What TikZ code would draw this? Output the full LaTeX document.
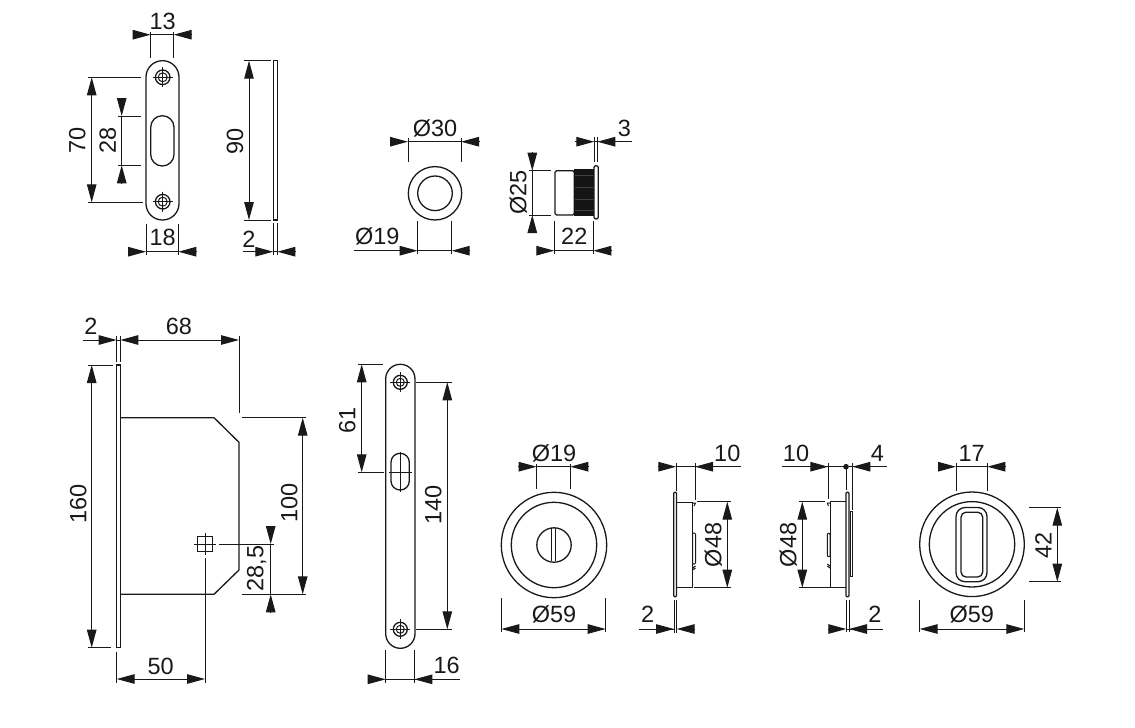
\documentclass[tikz,border=0pt]{standalone}
\usepackage{fontspec}
\setmainfont{Liberation Sans}
\usetikzlibrary{arrows.meta}
\tikzset{
  dimtip/.tip={Triangle[length=18pt,width=9.5pt]},
  dim/.style={draw=black!90, line width=1pt},
  dimarrow/.style={dim, -dimtip},
  dimboth/.style={dim, dimtip-dimtip},
  part/.style={draw=black!90, line width=1.3pt},
  thinpart/.style={draw=black!90, line width=1pt},
  dimtext/.style={font=\fontsize{23.5}{24}\selectfont, inner sep=0pt, text=black!90},
  dimtextv/.style={dimtext, rotate=90}
}
\begin{document}
\begin{tikzpicture}[x=1pt, y=-1pt]
  \useasboundingbox (0,0) rectangle (1135,728);

  % Small plate, front
  \draw[part, rounded corners=16.4pt] (146,60.7) rectangle (179,220);
  \draw[part, rounded corners=11.6pt] (150.7,115.7) rectangle (174,166);
  \foreach \sx/\sy in {162.7/77.3,162.7/201.7} {
    \draw[part] (\sx,\sy) circle (7.3);
    \draw[thinpart] (\sx,\sy) circle (4.5);
    \draw[thinpart] (\sx-10,\sy) -- (\sx+10,\sy) (\sx,\sy-10) -- (\sx,\sy+10);
  }
  % Small plate, side
  \draw[part] (273.3,60.7) rectangle (277.3,220);

  % Dimensions of the small plate
  \draw[dim] (150.7,32) -- (150.7,58) (173.7,32) -- (173.7,58) (150.7,34.7) -- (173.7,34.7);
  \draw[dimarrow] (132.7,34.7) -- (150.7,34.7);
  \draw[dimarrow] (192.3,34.7) -- (173.7,34.7);
  \node[dimtext] (lblThirteen) at (162.7,21) {13};

  \draw[dim] (88,77.3) -- (141,77.3) (88,202.3) -- (142.7,202.3);
  \draw[dimboth] (91.7,77.3) -- (91.7,202.3);
  \node[dimtextv] (lblSeventy) at (77.3,140) {70};

  \draw[dim] (118,116) -- (141,116) (118,165.3) -- (141,165.3) (121.7,116) -- (121.7,165.3);
  \draw[dimarrow] (121.7,97.7) -- (121.7,116);
  \draw[dimarrow] (121.7,184) -- (121.7,165.3);
  \node[dimtextv] (lblTwentyEight) at (107.7,140) {28};

  \draw[dim] (146,224) -- (146,255) (178.3,224) -- (178.3,255) (146,251.7) -- (178.3,251.7);
  \draw[dimarrow] (128.3,251.7) -- (146,251.7);
  \draw[dimarrow] (196.7,251.7) -- (178.3,251.7);
  \node[dimtext] (lblEighteen) at (162.7,237.3) {18};

  \draw[dim] (244.3,60.7) -- (270.7,60.7) (244.3,220) -- (270.7,220);
  \draw[dimboth] (249,60.7) -- (249,220);
  \node[dimtextv] (lblNinety) at (235,141) {90};

  \draw[dim] (273.3,223.3) -- (273.3,255) (277.3,223.3) -- (277.3,255) (273.3,251.7) -- (277.3,251.7);
  \draw[dimarrow] (242.7,251.7) -- (273.3,251.7);
  \draw[dimarrow] (296,251.7) -- (277.3,251.7);
  \node[dimtext] (lblTwoA) at (249,239) {2};

  % Small knob, front
  \draw[part] (435,193.3) circle (26.7);
  \draw[part] (435,193.3) circle (17.3);

  \draw[dim] (408,138) -- (408,161.7) (461,138) -- (461,161.7) (408,141.7) -- (461,141.7);
  \draw[dimarrow] (390,141.7) -- (408,141.7);
  \draw[dimarrow] (479.3,141.7) -- (461,141.7);
  \node[dimtext] (lblDiaThirty) at (435,128.3) {Ø30};

  \draw[dim] (417.7,220.7) -- (417.7,254) (451.7,220.7) -- (451.7,254) (417.7,250.7) -- (451.7,250.7);
  \draw[dimarrow] (354,250.7) -- (417.7,250.7);
  \draw[dimarrow] (470,250.7) -- (451.7,250.7);
  \node[dimtext] (lblDiaNineteenA) at (377.3,236.7) {Ø19};

  % Small knob, side
  \draw[part, rounded corners=1.5pt] (555,170.7) rectangle (574.3,215);
  \fill[black!92] (574.3,169) rectangle (594,215.7);
  \foreach \yy in {175,187,199,210} {
    \draw[black!75, line width=0.3pt] (575,\yy) -- (593.5,\yy);
  }
  \draw[part, rounded corners=2pt] (594,165.7) rectangle (598.3,219);

  \draw[dim] (529,170.7) -- (551,170.7) (529,215) -- (551,215) (532.3,170.7) -- (532.3,215);
  \draw[dimarrow] (532.3,152.3) -- (532.3,170.7);
  \draw[dimarrow] (532.3,232.3) -- (532.3,215);
  \node[dimtextv] (lblDiaTwentyFive) at (518.3,192.7) {Ø25};

  \draw[dim] (554.3,220.7) -- (554.3,254) (593.3,220.7) -- (593.3,254) (554.3,250.7) -- (593.3,250.7);
  \draw[dimarrow] (536.7,250.7) -- (554.3,250.7);
  \draw[dimarrow] (611.7,250.7) -- (593.3,250.7);
  \node[dimtext] (lblTwentyTwo) at (574.3,236.7) {22};

  \draw[dim] (594.3,137) -- (594.3,162.3) (597.3,137) -- (597.3,162.3) (594.3,141.7) -- (632.3,141.7);
  \draw[dimarrow] (575,141.7) -- (594.3,141.7);
  \draw[dimarrow] (616.7,141.7) -- (597.3,141.7);
  \node[dimtext] (lblThree) at (624.3,128.3) {3};

  % Lock case
  \draw[part] (116.7,365) rectangle (120.3,647.7);
  \draw[part] (120.3,417.7) -- (214,417.7) -- (239,442.3) -- (239,570) -- (214,594.3) -- (120.3,594.3);
  \draw[thinpart] (197.5,536.5) rectangle (212.5,551.5);
  \draw[thinpart] (194.3,544) -- (215.7,544) (205,533.3) -- (205,555);

  % Dimensions of the lock case
  \draw[dim] (116.7,335.7) -- (116.7,361.7) (120.3,335.7) -- (120.3,361.7) (116.7,340) -- (120.3,340);
  \draw[dimarrow] (82.7,340) -- (116.7,340);
  \node[dimtext] (lblTwoB) at (91,326) {2};

  \draw[dim] (239,336) -- (239,412.7);
  \draw[dimboth] (120.3,340) -- (239,340);
  \node[dimtext] (lblSixtyEight) at (179,326) {68};

  \draw[dim] (88.3,365) -- (113.3,365) (88.3,647.7) -- (110.7,647.7);
  \draw[dimboth] (91.7,365) -- (91.7,647.7);
  \node[dimtextv] (lblHundredSixty) at (78.3,504.3) {160};

  \draw[dim] (242.3,417.7) -- (306,417.7) (242.3,594.3) -- (306,594.3);
  \draw[dimboth] (302.7,417.7) -- (302.7,594.3);
  \node[dimtextv] (lblHundred) at (289.3,503.3) {100};

  \draw[dim] (219,544) -- (274.3,544) (270.7,544) -- (270.7,594.3);
  \draw[dimarrow] (270.7,526) -- (270.7,544);
  \draw[dimarrow] (270.7,612.7) -- (270.7,594.3);
  \node[dimtextv] (lblTwentyEightFive) at (256.7,568.3) {28,5};

  \draw[dim] (205,558.3) -- (205,683.3) (116.7,651.7) -- (116.7,683);
  \draw[dimboth] (116.7,679) -- (205,679);
  \node[dimtext] (lblFifty) at (160.7,666) {50};

  % Long plate
  \draw[part, rounded corners=14.6pt] (385.7,364.3) rectangle (415,648.3);
  \draw[part, rounded corners=9pt] (391,453.3) rectangle (409.3,490);
  \draw[thinpart] (400.3,451.7) -- (400.3,491.7) (388.5,472.3) -- (411.7,472.3);
  \foreach \sx/\sy in {400.3/382.3,400.3/629.3} {
    \draw[part] (\sx,\sy) circle (7);
    \draw[thinpart] (\sx,\sy) circle (4);
    \draw[thinpart] (\sx-10,\sy) -- (\sx+10,\sy) (\sx,\sy-10) -- (\sx,\sy+10);
  }

  \draw[dim] (358.3,364.3) -- (382.7,364.3) (358.3,472.3) -- (384,472.3);
  \draw[dimboth] (361.7,364.3) -- (361.7,472.3);
  \node[dimtextv] (lblSixtyOne) at (347.3,420) {61};

  \draw[dim] (416,382.3) -- (451.7,382.3) (416,629.3) -- (451.7,629.3);
  \draw[dimboth] (447.3,382.3) -- (447.3,629.3);
  \node[dimtextv] (lblHundredForty) at (433.3,505) {140};

  \draw[dim] (385.7,650) -- (385.7,683) (414.3,650) -- (414.3,683) (385.7,679.3) -- (460,679.3);
  \draw[dimarrow] (367.7,679.3) -- (385.7,679.3);
  \draw[dimarrow] (432.7,679.3) -- (414.3,679.3);
  \node[dimtext] (lblSixteen) at (446.7,665) {16};

  % Round cover with turn slot, front
  \draw[part] (554,545) circle (52.7);
  \draw[part] (554,545) circle (42.7);
  \draw[part] (554,545) circle (17.2);
  \draw[thinpart] (551,528.3) -- (551,560.7) (555,528.3) -- (555,560.7);

  \draw[dim] (536.7,464) -- (536.7,489.3) (570.3,464) -- (570.3,489.3) (536.7,466.7) -- (570.3,466.7);
  \draw[dimarrow] (518.3,466.7) -- (536.7,466.7);
  \draw[dimarrow] (589,466.7) -- (570.3,466.7);
  \node[dimtext] (lblDiaNineteenB) at (554,453.3) {Ø19};

  \draw[dim] (501.3,598.3) -- (501.3,632.3) (605.7,598.3) -- (605.7,632.3);
  \draw[dimboth] (501.3,629) -- (605.7,629);
  \node[dimtext] (lblDiaFiftyNineA) at (554,614.3) {Ø59};

  % Round cover, side
  \draw[part, rounded corners=1pt] (673.7,492.3) rectangle (676.5,596.7);
  \draw[thinpart] (676.5,502) -- (692.5,502) -- (692.5,587.5) -- (676.5,587.5);
  \draw[thinpart, rounded corners=1pt] (692.5,533) rectangle (695.5,564);
  \draw[thinpart] (692.5,503) -- (695.5,503) -- (694,506);
  \draw[thinpart] (692.5,568) -- (695.5,566) (692.5,570) -- (695.5,568);

  \draw[dim] (676.3,463) -- (676.3,491) (695,463) -- (695,500) (676.3,466.7) -- (740.7,466.7);
  \draw[dimarrow] (658.3,466.7) -- (676.3,466.7);
  \draw[dimarrow] (712.7,466.7) -- (695,466.7);
  \node[dimtext] (lblTenA) at (727.3,453.3) {10};

  \draw[dim] (697.3,501.7) -- (730.7,501.7) (694,587.7) -- (730.7,587.7);
  \draw[dimboth] (727.3,501.7) -- (727.3,587.7);
  \node[dimtextv] (lblDiaFortyEightA) at (713.3,545) {Ø48};

  \draw[dim] (674,600) -- (674,633) (676.7,600) -- (676.7,633) (639.3,629) -- (674,629);
  \draw[dimarrow] (655.7,629) -- (674,629);
  \draw[dimarrow] (694.3,629) -- (676.7,629);
  \node[dimtext] (lblTwoC) at (647.7,614.3) {2};

  % Round cover with grip, side
  \draw[part, rounded corners=1pt] (846,492.3) rectangle (849,596.7);
  \draw[thinpart] (850,511.7) rectangle (852.7,576.7);
  \draw[thinpart] (846,501.7) -- (830,501.7) -- (830,587.7) -- (846,587.7);
  \draw[thinpart, rounded corners=1pt] (827.3,533.3) rectangle (830,556.7);
  \draw[thinpart] (830,503) -- (827.3,503) -- (828.5,506);
  \draw[thinpart] (830,566) -- (827.3,564) (830,568) -- (827.3,566);

  \draw[dim] (828.3,463) -- (828.3,499.3) (846,466.7) -- (846,490) (852.3,463) -- (852.3,510) (781.7,466.7) -- (886.7,466.7);
  \draw[dimarrow] (809.3,466.7) -- (828.3,466.7);
  \draw[dimarrow] (870.7,466.7) -- (852.3,466.7);
  \fill[black!90] (846,466.7) circle (2.8);
  \node[dimtext] (lblTenB) at (796,453.3) {10};
  \node[dimtext] (lblFour) at (877.3,453.3) {4};

  \draw[dim] (799,501.7) -- (825,501.7) (799,587.7) -- (830,587.7);
  \draw[dimboth] (802.3,501.7) -- (802.3,587.7);
  \node[dimtextv] (lblDiaFortyEightB) at (788.3,545) {Ø48};

  \draw[dim] (846.3,600) -- (846.3,632.3) (849,600) -- (849,632.3) (846.3,629) -- (883.3,629);
  \draw[dimarrow] (828.3,629) -- (846.3,629);
  \draw[dimarrow] (867.7,629) -- (849,629);
  \node[dimtext] (lblTwoD) at (875,614.3) {2};

  % Round cover with grip, front
  \draw[part] (972,544.3) circle (52.3);
  \draw[part] (972,544.3) circle (42.7);
  \draw[part, rounded corners=9pt] (956,507.5) rectangle (987,581.7);
  \draw[part, rounded corners=5pt] (961,512.2) rectangle (982.7,577);

  \draw[dim] (956,463) -- (956,491) (987.3,463) -- (987.3,491) (956,466.7) -- (987.3,466.7);
  \draw[dimarrow] (938.3,466.7) -- (956,466.7);
  \draw[dimarrow] (1005.7,466.7) -- (987.3,466.7);
  \node[dimtext] (lblSeventeen) at (971.7,453.3) {17};

  \draw[dim] (1029.3,507.7) -- (1060.7,507.7) (1029.3,581.7) -- (1060.7,581.7);
  \draw[dimboth] (1057.3,507.7) -- (1057.3,581.7);
  \node[dimtextv] (lblFortyTwo) at (1043.3,545) {42};

  \draw[dim] (919.7,600) -- (919.7,632.3) (1024.3,600) -- (1024.3,632.3);
  \draw[dimboth] (919.7,629) -- (1024.3,629);
  \node[dimtext] (lblDiaFiftyNineB) at (971.7,614.3) {Ø59};
\end{tikzpicture}
\end{document}
